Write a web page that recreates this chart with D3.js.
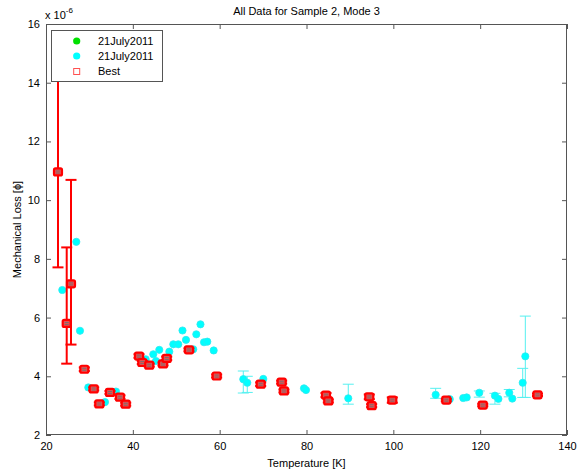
<!DOCTYPE html>
<html><head><meta charset="utf-8">
<script src="https://cdn.jsdelivr.net/npm/d3@7"></script>
<style>
body{margin:0;background:#fff}
svg{display:block}
text{font-family:"Liberation Sans",Arial,sans-serif;fill:#000}
</style>
</head><body>
<svg id="c" width="577" height="472"></svg>
<script>
// ---- data (loss values in units of 1e-6) ----
const xTicks = [20, 40, 60, 80, 100, 120, 140];
const yTicks = [2, 4, 6, 8, 10, 12, 14, 16];
const legendLabels = ["21July2011", "21July2011", "Best"];

const cyanT    = [23.75, 26.98, 27.83, 29.74, 33.59, 36.12, 42.96, 44.71, 45.33, 46.09, 48.40, 49.32, 50.47, 51.44, 52.24, 53.92, 54.62, 55.58, 56.39, 57.15, 58.62, 65.44, 66.36, 70.05, 79.42, 79.88, 89.62, 109.75, 113.0, 116.1, 116.9, 119.8, 123.4, 124.2, 126.7, 127.4, 129.8, 130.4];
const cyanLoss = [6.94, 8.58, 5.55, 3.62, 3.12, 3.48, 4.58, 4.75, 4.52, 4.90, 4.84, 5.09, 5.09, 5.56, 5.24, 4.92, 5.43, 5.77, 5.16, 5.18, 4.88, 3.90, 3.78, 3.91, 3.59, 3.53, 3.25, 3.37, 3.22, 3.26, 3.28, 3.44, 3.34, 3.23, 3.44, 3.24, 3.78, 4.68];
const cyanLow  = [null, null, null, null, null, null, null, null, null, null, null, null, null, null, null, null, null, null, null, null, null, 3.43, 3.45, null, null, null, 3.05, 3.25, null, null, null, 3.29, 3.05, null, 3.30, null, 3.28, 3.28];
const cyanHigh = [null, null, null, null, null, null, null, null, null, null, null, null, null, null, null, null, null, null, null, null, null, 4.18, 4.00, null, null, null, 3.73, 3.59, null, null, null, 3.50, 3.42, null, 3.55, null, 4.27, 6.05];

const bestT    = [22.76, 24.77, 25.76, 28.82, 30.99, 32.28, 34.74, 37.04, 38.36, 41.42, 42.18, 43.77, 46.95, 47.80, 52.93, 59.31, 69.45, 74.28, 74.81, 84.49, 85.02, 94.46, 95.01, 99.76, 112.2, 120.6, 133.2];
const bestLoss = [10.96, 5.80, 7.15, 4.24, 3.57, 3.06, 3.45, 3.29, 3.05, 4.69, 4.47, 4.38, 4.42, 4.61, 4.90, 4.01, 3.73, 3.80, 3.50, 3.36, 3.16, 3.30, 3.00, 3.19, 3.19, 3.02, 3.37];
const bestErrLow  = [3.25, 1.37, 2.07, 0.06, 0.05, 0.05, 0.05, 0.06, 0.05, 0.06, 0.05, 0.05, 0.05, 0.06, 0.05, 0.05, 0.06, 0.05, 0.05, 0.07, 0.05, 0.08, 0.05, 0.09, 0.04, 0.04, 0.04];
const bestErrHigh = [3.25, 2.59, 3.54, 0.06, 0.05, 0.05, 0.05, 0.06, 0.05, 0.06, 0.05, 0.05, 0.05, 0.06, 0.05, 0.05, 0.06, 0.05, 0.05, 0.07, 0.05, 0.08, 0.05, 0.09, 0.04, 0.04, 0.04];

// ---- layout ----
const svg = d3.select("#c");
const L = 46, R = 567, T = 24, B = 435;
const x = d3.scaleLinear().domain([20, 140]).range([L, R]);
const y = d3.scaleLinear().domain([2, 16]).range([B, T]);
const axisCol = "#555";

svg.append("defs").append("clipPath").attr("id", "clip")
  .append("rect").attr("x", L).attr("y", T).attr("width", R - L).attr("height", B - T);

// frame
svg.append("rect").attr("x", L).attr("y", T).attr("width", R - L).attr("height", B - T)
  .attr("fill", "#fff").attr("stroke", "none");

function styleAxis(g, labels) {
  g.select(".domain").remove();
  g.selectAll("line").attr("stroke", axisCol);
  if (labels) g.selectAll("text").attr("font-size", 11).attr("fill", "#000");
  else g.selectAll("text").remove();
}
svg.append("g").attr("transform", `translate(0,${B})`)
  .call(d3.axisBottom(x).tickValues(xTicks).tickSizeInner(-5).tickSizeOuter(0).tickPadding(7))
  .call(g => styleAxis(g, true));
svg.append("g").attr("transform", `translate(0,${T})`)
  .call(d3.axisTop(x).tickValues(xTicks).tickSizeInner(-5).tickSizeOuter(0))
  .call(g => styleAxis(g, false));
svg.append("g").attr("transform", `translate(${L},0)`)
  .call(d3.axisLeft(y).tickValues(yTicks).tickSizeInner(-5).tickSizeOuter(0).tickPadding(6))
  .call(g => styleAxis(g, true));
svg.append("g").attr("transform", `translate(${R},0)`)
  .call(d3.axisRight(y).tickValues(yTicks).tickSizeInner(-5).tickSizeOuter(0))
  .call(g => styleAxis(g, false));

svg.append("rect").attr("x", L + 0.5).attr("y", T + 0.5).attr("width", R - L - 1).attr("height", B - T - 1)
  .attr("fill", "none").attr("stroke", axisCol).attr("stroke-width", 1);

const plot = svg.append("g").attr("clip-path", "url(#clip)");

// cyan error bars
const cyan = cyanT.map((t, i) => ({t, v: cyanLoss[i], lo: cyanLow[i], hi: cyanHigh[i]}));
const cyanCol = "#00ffff";
const cw = 5.5;
cyan.filter(d => d.lo !== null).forEach(d => {
  const g = plot.append("g").attr("stroke", "#55f0f0").attr("stroke-width", 1);
  g.append("line").attr("x1", x(d.t)).attr("x2", x(d.t)).attr("y1", y(d.lo)).attr("y2", y(d.hi));
  g.append("line").attr("x1", x(d.t) - cw).attr("x2", x(d.t) + cw).attr("y1", y(d.lo)).attr("y2", y(d.lo));
  g.append("line").attr("x1", x(d.t) - cw).attr("x2", x(d.t) + cw).attr("y1", y(d.hi)).attr("y2", y(d.hi));
});
plot.selectAll("circle.cy").data(cyan).join("circle").attr("class", "cy")
  .attr("cx", d => x(d.t)).attr("cy", d => y(d.v)).attr("r", 3.6)
  .attr("fill", cyanCol).attr("stroke", "#2ee8f0").attr("stroke-width", 0.8);

// best (red) error bars and markers
const best = bestT.map((t, i) => ({t, v: bestLoss[i], lo: bestLoss[i] - bestErrLow[i], hi: bestLoss[i] + bestErrHigh[i]}));
const red = "#ff0000";
best.forEach(d => {
  const g = plot.append("g").attr("stroke", red).attr("stroke-width", 2);
  g.append("line").attr("x1", x(d.t)).attr("x2", x(d.t)).attr("y1", y(d.lo)).attr("y2", y(d.hi));
  g.append("line").attr("x1", x(d.t) - cw).attr("x2", x(d.t) + cw).attr("y1", y(d.lo)).attr("y2", y(d.lo));
  g.append("line").attr("x1", x(d.t) - cw).attr("x2", x(d.t) + cw).attr("y1", y(d.hi)).attr("y2", y(d.hi));
});
const mk = plot.selectAll("g.bm").data(best).join("g").attr("class", "bm")
  .attr("transform", d => `translate(${x(d.t)},${y(d.v)})`);
mk.append("rect").attr("x", -4).attr("y", -3.5).attr("width", 8).attr("height", 7).attr("rx", 1.5)
  .attr("fill", "#e85050").attr("stroke", red).attr("stroke-width", 2.2);
mk.append("line").attr("x1", -2).attr("x2", 2).attr("y1", -0.9).attr("y2", -0.9).attr("stroke", "#707070").attr("stroke-width", 0.9);
mk.append("line").attr("x1", -2).attr("x2", 2).attr("y1", 1.1).attr("y2", 1.1).attr("stroke", "#707070").attr("stroke-width", 0.9);

// legend
const lg = svg.append("g");
lg.append("rect").attr("x", 51.5).attr("y", 30.5).attr("width", 111).attr("height", 51)
  .attr("fill", "#fff").attr("stroke", axisCol);
const legY = [41, 56, 71.5];
lg.append("circle").attr("cx", 76.7).attr("cy", legY[0]).attr("r", 3.6).attr("fill", "#00e000");
lg.append("circle").attr("cx", 76.7).attr("cy", legY[1]).attr("r", 3.6).attr("fill", cyanCol);
lg.append("rect").attr("x", 73.7).attr("y", legY[2] - 3).attr("width", 6).attr("height", 6)
  .attr("fill", "none").attr("stroke", "#ff5050").attr("stroke-width", 1);
legendLabels.forEach((s, i) => {
  lg.append("text").attr("x", 98).attr("y", legY[i]).attr("dy", "0.35em").attr("font-size", 11).text(s);
});

// titles
svg.append("text").attr("x", (L + R) / 2).attr("y", 15).attr("text-anchor", "middle").attr("font-size", 11)
  .text("All Data for Sample 2, Mode 3");
svg.append("text").attr("x", (L + R) / 2).attr("y", 467).attr("text-anchor", "middle").attr("font-size", 11)
  .text("Temperature [K]");
svg.append("text").attr("transform", `translate(21,${(T + B) / 2}) rotate(-90)`).attr("text-anchor", "middle")
  .attr("font-size", 11).text("Mechanical Loss [ϕ]");
const ex = svg.append("text").attr("x", 45).attr("y", 19).attr("font-size", 11);
ex.append("tspan").text("x 10");
ex.append("tspan").attr("dy", -6).attr("font-size", 8).text("-6");
</script>
</body></html>
